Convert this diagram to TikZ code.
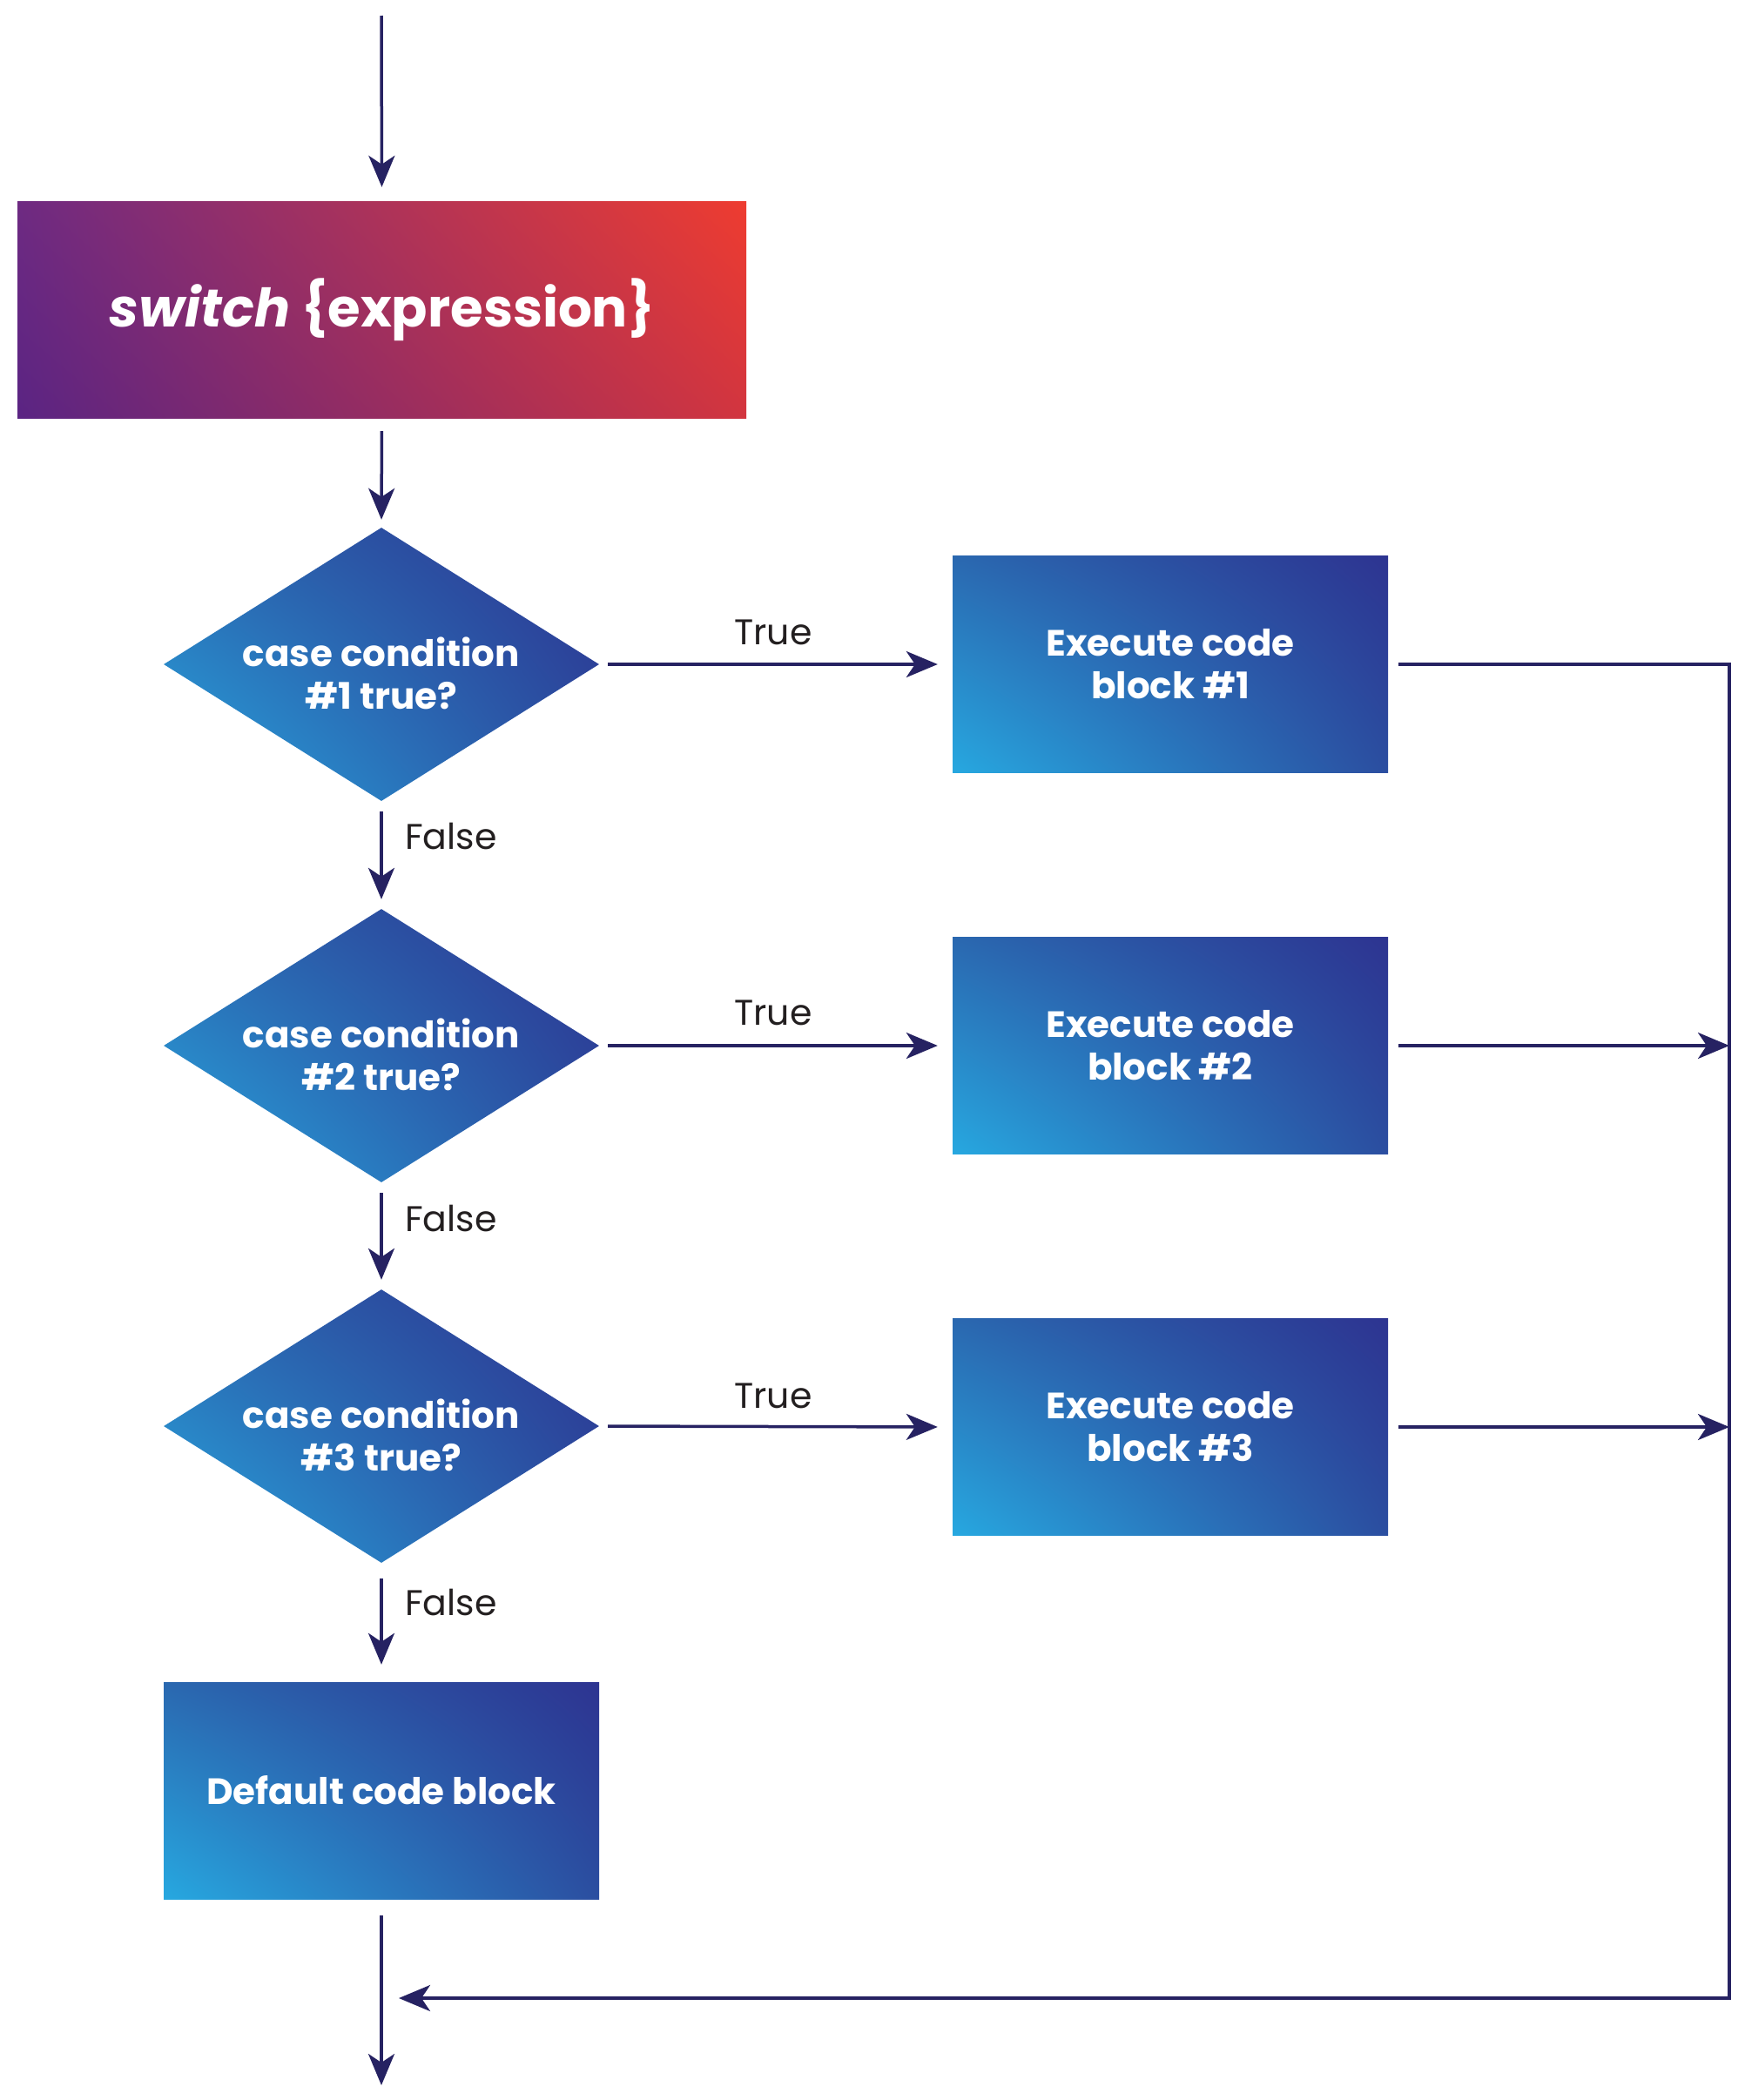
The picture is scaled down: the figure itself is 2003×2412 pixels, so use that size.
\documentclass[tikz,border=0pt]{standalone}
\usepackage{fontspec}
\setmainfont{Poppins}
\usetikzlibrary{shapes.geometric,arrows.meta,shadings}
\definecolor{arrowc}{RGB}{38,34,98}
\definecolor{labelc}{RGB}{35,31,32}
\definecolor{cyanc}{RGB}{39,168,224}
\definecolor{navyc}{RGB}{45,52,145}
\definecolor{blueul}{RGB}{42,104,176}
\definecolor{bluelr}{RGB}{43,78,160}
\definecolor{swul}{RGB}{110,42,130}
\definecolor{swll}{RGB}{90,36,131}
\definecolor{swur}{RGB}{238,60,48}
\definecolor{swlr}{RGB}{210,53,63}
\begin{document}
\begin{tikzpicture}[x=1pt,y=-1pt,
  arr/.style={draw=arrowc, line width=3.5pt, -{Stealth[length=36pt,width=30pt,inset=10pt]}},
  bluefill/.style={upper left=blueul, upper right=navyc, lower left=cyanc, lower right=bluelr},
  bluebox/.style={rectangle, bluefill, minimum width=500pt, minimum height=249pt, inner sep=0pt,
     text=white, font=\fontsize{42}{49}\selectfont\bfseries, align=center},
  dia/.style={diamond, bluefill, minimum width=500pt, minimum height=314pt, inner sep=0pt},
  dtext/.style={text=white, font=\fontsize{42}{49}\selectfont\bfseries, align=center, inner sep=0pt},
  swbox/.style={rectangle, upper left=swul, upper right=swur, lower left=swll, lower right=swlr,
     minimum width=837pt, minimum height=249pt, inner sep=0pt, text=white,
     font=\fontsize{61}{66}\selectfont\bfseries},
  lbl/.style={text=labelc, font=\fontsize{41}{44}\selectfont, inner sep=0pt}
]
\useasboundingbox (0,0) rectangle (2003,2412);
\fill[white] (0,0) rectangle (2003,2412);

% nodes
\node[swbox] (sw) at (438.5,355.5) {\itshape switch\upshape\ \{expression\}};
\node[dia] (d1) at (438,763) {};
\node[dtext] (d1t) at (438,773) {case condition\\\#1 true?};
\node[dia] (d2) at (438,1201) {};
\node[dtext] (d2t) at (438,1211) {case condition\\\#2 true?};
\node[dia] (d3) at (438,1638) {};
\node[dtext] (d3t) at (438,1648) {case condition\\\#3 true?};
\node[bluebox] (e1) at (1344,763) {Execute code\\block \#1};
\node[bluebox] (e2) at (1344,1201) {Execute code\\block \#2};
\node[bluebox] (e3) at (1344,1639) {Execute code\\block \#3};
\node[bluebox] (def) at (438,2056.5) {Default code block};

% coordinates
\coordinate (top) at (438,18);
\coordinate (bot) at (438,2395);
\coordinate (r1) at (1986,763);
\coordinate (r2) at (1986,1201);
\coordinate (r3) at (1986,1639);
\coordinate (r4) at (1986,2295);
\coordinate (j) at (438,2295);

% connectors
\draw[arr, shorten >=16pt] (top) -- (sw.north);
\draw[arr, shorten <=15pt, shorten >=9pt] (sw.south) -- (d1.north);
\foreach \d/\e in {d1/e1,d2/e2,d3/e3}{
  \draw[arr, shorten <=10pt, shorten >=17pt] (\d.east) -- (\e.west);
}
\draw[arr, shorten <=12pt, shorten >=11pt] (d1.south) -- (d2.north);
\draw[arr, shorten <=12pt, shorten >=11pt] (d2.south) -- (d3.north);
\draw[arr, shorten <=18pt, shorten >=20pt] (d3.south) -- (def.north);
\draw[arr, shorten <=19pt] (def.south) -- (bot);
\draw[arr, shorten <=12pt, shorten >=20pt] (e1.east) -- (r1) -- (r4) -- (j);
\draw[arr, shorten <=12pt] (e2.east) -- (r2);
\draw[arr, shorten <=12pt] (e3.east) -- (r3);

% labels
\node[lbl] (t1) at (888,726) {True};
\node[lbl] (t2) at (888,1163) {True};
\node[lbl] (t3) at (888,1603) {True};
\node[lbl, anchor=west] (f1) at (465,961) {False};
\node[lbl, anchor=west] (f2) at (465,1399) {False};
\node[lbl, anchor=west] (f3) at (465,1840) {False};
\end{tikzpicture}
\end{document}
